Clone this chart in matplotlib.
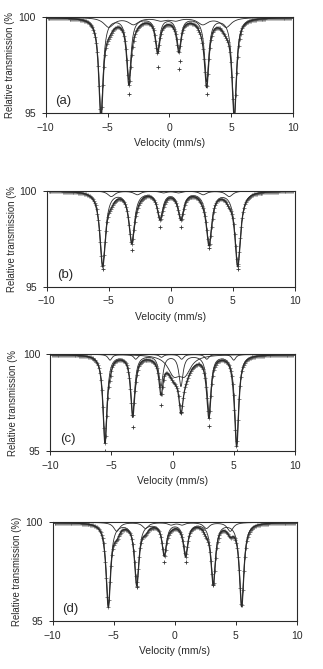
import numpy as np
import matplotlib
matplotlib.use("Agg")
import matplotlib.pyplot as plt

plt.rcParams['font.family'] = ['Liberation Sans', 'DejaVu Sans']

# ---- data (velocity in mm/s, transmission in %) ----
labels = ["(a)", "(b)", "(c)", "(d)"]
ylabels = ["Relative transmission (%", "Relative transmission (%",
           "Relative transmission (%", "Relative transmission (%)"]

# main sextet: line positions, depths (% absorption), half width
a_main_pos = [-5.53, -3.27, -0.95, 0.78, 3.02, 5.25]
a_main_dep = [5.1, 3.2, 1.65, 1.6, 3.3, 5.1]
a_main_w = 0.21
a_sub_pos = [-4.9, -2.9, -0.7, 0.5, 2.7, 4.6]
a_sub_dep = [0.5, 0.35, 0.15, 0.15, 0.35, 0.5]
a_sub_w = 0.5
a_out_v = [-5.53, -3.27, -0.95, 0.78, 0.85, 3.02]
a_out_t = [95.0, 96.0, 97.4, 97.3, 97.7, 96.0]

b_main_pos = [-5.49, -3.15, -0.87, 0.82, 3.08, 5.39]
b_main_dep = [3.85, 2.6, 1.35, 1.35, 2.7, 3.85]
b_main_w = 0.27
b_sub_pos = [-4.8, -2.7, -0.6, 0.6, 2.6, 4.7]
b_sub_dep = [0.3, 0.2, 0.1, 0.1, 0.2, 0.3]
b_sub_w = 0.35
b_out_v = [-5.49, -3.15, -0.87, 0.82, 3.08, 5.39]
b_out_t = [95.9, 96.9, 98.1, 98.1, 97.0, 95.9]

c_main_pos = [-5.51, -3.25, -0.94, 0.69, 2.98, 5.24]
c_main_dep = [4.5, 3.05, 1.6, 1.6, 3.0, 4.6]
c_main_w = 0.2
c_sub_pos = [-5.1, -3.0, -0.9, 0.75, 2.8, 5.0]
c_sub_dep = [0.3, 0.25, 0.15, 0.25, 0.25, 0.3]
c_sub_w = 0.2
c_dbl_pos = [0.1, 1.0]
c_dbl_dep = [0.9, 0.9]
c_dbl_w = 0.6
c_out_v = [-5.51, -3.25, -0.94, 0.69, 2.98, 5.24]
c_out_t = [95.0, 96.25, 97.4, 97.0, 96.3, 95.0]

d_main_pos = [-5.44, -3.11, -0.85, 0.9, 3.16, 5.49]
d_main_dep = [4.2, 3.1, 1.6, 1.6, 3.05, 4.2]
d_main_w = 0.22
d_sub_pos = [-4.75, -2.4, -0.3, 0.6, 2.6, 4.55]
d_sub_dep = [0.45, 0.3, 0.12, 0.12, 0.3, 0.45]
d_sub_w = 0.3
d_out_v = [-0.85, 0.9, -3.11, 3.16]
d_out_t = [98.0, 98.0, 96.7, 96.8]

panels = [
    dict(comps=[(a_main_pos, a_main_dep, a_main_w), (a_sub_pos, a_sub_dep, a_sub_w)],
         out=(a_out_v, a_out_t)),
    dict(comps=[(b_main_pos, b_main_dep, b_main_w), (b_sub_pos, b_sub_dep, b_sub_w)],
         out=(b_out_v, b_out_t)),
    dict(comps=[(c_main_pos, c_main_dep, c_main_w), (c_sub_pos, c_sub_dep, c_sub_w),
                (c_dbl_pos, c_dbl_dep, c_dbl_w)],
         out=(c_out_v, c_out_t)),
    dict(comps=[(d_main_pos, d_main_dep, d_main_w), (d_sub_pos, d_sub_dep, d_sub_w)],
         out=(d_out_v, d_out_t)),
]

# axes boxes in pixels: left, right, top, bottom
boxes = [(45.7, 293, 17.3, 113), (46.7, 295, 190.7, 286.7),
         (50, 295, 354.3, 451), (52.7, 296.7, 522.3, 621)]
ylab_right = [15, 17.5, 18.5, 22]

W, H = 323, 669
fig = plt.figure(figsize=(W / 100, H / 100), dpi=100)

v_fine = np.linspace(-10, 10, 2001)
v_chan = np.linspace(-9.85, 9.85, 256)


def lor(v, pos, dep, w):
    out = np.zeros_like(v)
    for p, d in zip(pos, dep):
        out += d * w ** 2 / ((v - p) ** 2 + w ** 2)
    return out


dark = '#2a2a2a'
for i, (pn, (l, r, t, b)) in enumerate(zip(panels, boxes)):
    ax = fig.add_axes([l / W, 1 - b / H, (r - l) / W, (b - t) / H])
    total_f = np.zeros_like(v_fine)
    total_c = np.zeros_like(v_chan)
    for pos, dep, w in pn['comps']:
        comp = lor(v_fine, pos, dep, w)
        total_f += comp
        total_c += lor(v_chan, pos, dep, w)
        ax.plot(v_fine, 100 - comp, color=dark, lw=0.6)
    ax.plot(v_chan, 100 - total_c, linestyle='none', marker='+', ms=2.2,
            mew=0.5, color='#555555')
    ax.plot(pn['out'][0], pn['out'][1], linestyle='none', marker='+', ms=2.4,
            mew=0.6, color='#333333')
    ax.plot(v_fine, 100 - total_f, color=dark, lw=0.9)
    ax.set_xlim(-10, 10)
    ax.set_ylim(95, 100)
    ax.set_xticks([-10, -5, 0, 5, 10])
    ax.set_yticks([95, 100])
    ax.tick_params(direction='out', length=3, width=0.7, labelsize=7.5,
                   colors=dark, pad=4)
    for s in ax.spines.values():
        s.set_linewidth(0.8)
        s.set_color(dark)
    ax.set_xlabel("Velocity (mm/s)", fontsize=7.5, color=dark)
    ax.xaxis.set_label_coords(0.5, -25 / (b - t))
    ax.set_ylabel(ylabels[i], fontsize=6.9, color=dark)
    ax.yaxis.set_label_coords((ylab_right[i] - l) / (r - l), 0.5)
    ax.text(0.04, 0.06, labels[i], transform=ax.transAxes, fontsize=9.5,
            color=dark, ha='left', va='bottom')

fig.savefig("out.png", dpi=100)
